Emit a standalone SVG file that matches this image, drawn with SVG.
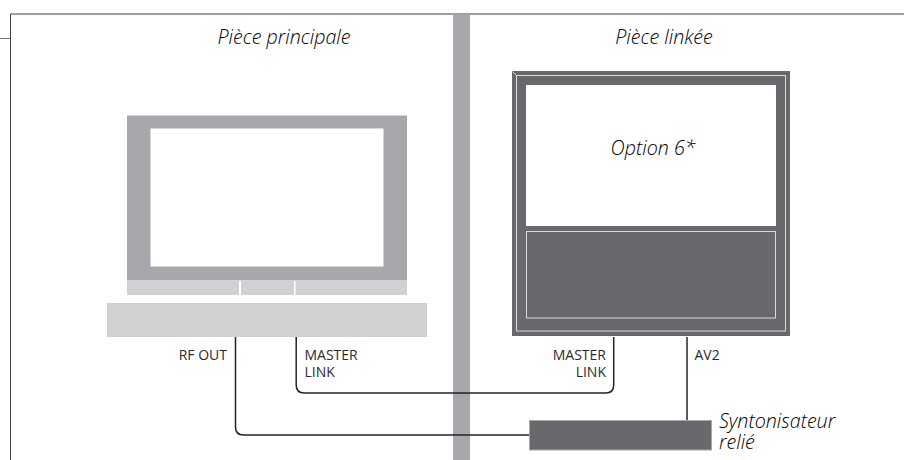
<svg xmlns="http://www.w3.org/2000/svg" width="904" height="460" viewBox="0 0 904 460">
<style>
text{font-family:"Open Sans","Noto Sans","Liberation Sans",sans-serif;fill:#2b2a2c}
.t{font-size:19.700px;font-style:italic;font-weight:300;fill:#000}
.l{font-size:14px}
.w{fill:none;stroke:#232224;stroke-width:1.5}
.g{fill:#a7a8ab}
.p{fill:#d0d1d3}
.d{fill:#68696c}
.h{fill:none;stroke:#d8d9da;stroke-width:1}
</style>
<rect width="904" height="460" fill="#fff"/>
<g id="frame">
<path d="M10.5 460V14H904" fill="none" stroke="#404143" stroke-width="1"/>
<path d="M0 38.500H10" stroke="#77787a" stroke-width="1" fill="none"/>
</g>
<rect id="divider" class="g" x="453" y="14.500" width="17" height="445.500"/>
<g id="connectors">
<path class="w" d="M235.500 337V427Q235.500 435 243.500 435H529"/>
<path class="w" d="M296.200 337V385Q296.200 393 304.200 393H605.700Q613.700 393 613.700 385V337"/>
<path class="w" d="M687 337V420"/>
</g>
<g id="tv-main">
<rect class="g" x="127" y="115.500" width="280" height="165"/>
<rect x="150.500" y="128.500" width="233" height="138" fill="#fff"/>
<rect class="p" x="127" y="281" width="112" height="14"/>
<rect class="p" x="241" y="281" width="53" height="14"/>
<rect class="p" x="295.500" y="281" width="111.500" height="14"/>
</g>
<rect id="base" class="p" x="107" y="303" width="320" height="34"/>
<g id="tv-linked">
<rect class="d" x="512" y="71" width="278" height="265"/>
<rect class="h" x="516.500" y="75.500" width="269" height="255.500"/>
<path class="h" d="M512.500 71.500L516.500 75.500"/>
<rect x="526" y="85" width="250" height="141" fill="#fff"/>
<rect class="h" x="526.500" y="231.500" width="249" height="86.500"/>
<text class="t" x="653" y="155" text-anchor="middle">Option 6*</text>
</g>
<g id="tuner">
<rect class="d" x="529.500" y="420.500" width="182" height="29.500" stroke="#a7a8ab" stroke-width="1"/>
<text class="t"><tspan x="719" y="428">Syntonisateur</tspan><tspan x="719" y="449">relié</tspan></text>
</g>
<text class="t" x="284" y="44" text-anchor="middle">Pièce principale</text>
<text class="t" x="664" y="44" text-anchor="middle">Pièce linkée</text>
<text class="l" x="227" y="360" text-anchor="end">RF OUT</text>
<text class="l"><tspan x="304.500" y="360">MASTER</tspan><tspan x="304.500" y="377">LINK</tspan></text>
<text class="l" text-anchor="end"><tspan x="606" y="360">MASTER</tspan><tspan x="606" y="377">LINK</tspan></text>
<text class="l" x="694.500" y="360">AV2</text>
</svg>
